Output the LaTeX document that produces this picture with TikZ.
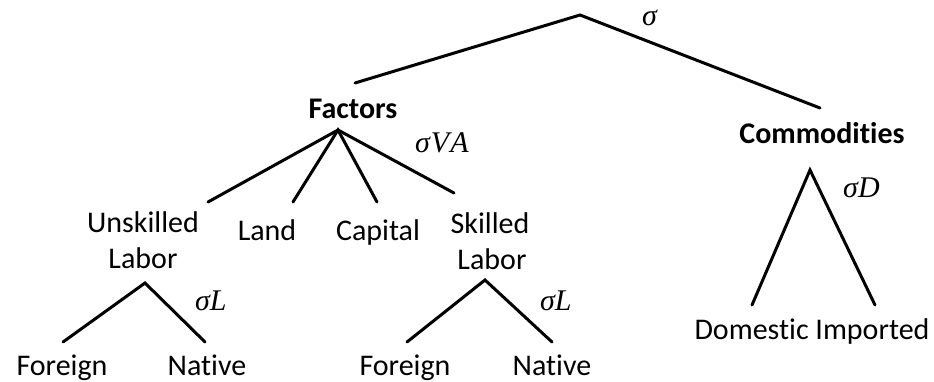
\documentclass[tikz,border=0pt]{standalone}
\usepackage{fontspec}
\setmainfont{Carlito}[Ligatures={NoCommon}]
\newfontfamily\sigfont{Liberation Serif}
\begin{document}
\begin{tikzpicture}[x=1pt,y=-1pt,
  lbl/.style={inner sep=0pt,anchor=base,font=\fontsize{30}{36}\selectfont},
  blbl/.style={lbl,font=\fontsize{30}{36}\selectfont\bfseries},
  sig/.style={inner sep=0pt,anchor=base west,font=\fontsize{30}{36}\selectfont\sigfont\itshape},
  edge/.style={line width=3pt,line cap=round,line join=miter}]
\useasboundingbox (0,0) rectangle (934,381);
% top
\coordinate (root) at (580,15);
\coordinate (rl) at (355,83);
\coordinate (rr) at (820,108);
\node[sig] (s0) at (642,25) {σ};
\draw[edge] (rl) -- (root) -- (rr);
% Factors
\node[blbl] (fac) at (353,118) {Factors};
\node[blbl] (com) at (822,143) {Commodities};
\coordinate (fa) at (338,130);
\node[sig] (sva) at (415,152) {σ\kern1pt V\kern1pt A};
\coordinate (f1) at (208,202);
\coordinate (f2) at (293,202);
\coordinate (f3) at (377,202);
\coordinate (f4) at (454,193);
\draw[edge] (f1) -- (fa) -- (f4);
\draw[edge] (f2) -- (fa) -- (f3);
\node[lbl] (un) at (143,232) {Unskilled};
\node[lbl] (unl) at (143,268) {Labor};
\node[lbl] (land) at (267,240) {Land};
\node[lbl] (cap) at (378,240) {Capital};
\node[lbl] (sk) at (490,233) {Skilled};
\node[lbl] (skl) at (492,269) {Labor};
% unskilled subtree
\coordinate (ua) at (145,283);
\coordinate (u1) at (63,342);
\coordinate (u2) at (205,342);
\draw[edge] (u1) -- (ua) -- (u2);
\node[sig] (sl1) at (195,310) {σL};
\node[lbl] (uf) at (62,375) {Foreign};
\node[lbl] (un2) at (207,375) {Native};
% skilled subtree
\coordinate (sa) at (485,280);
\coordinate (s1) at (407,342);
\coordinate (s2) at (552,342);
\draw[edge] (s1) -- (sa) -- (s2);
\node[sig] (sl2) at (540,310) {σL};
\node[lbl] (sf) at (405,375) {Foreign};
\node[lbl] (sn) at (552,375) {Native};
% commodities subtree
\coordinate (ca) at (810,170);
\coordinate (c1) at (752,305);
\coordinate (c2) at (875,305);
\draw[edge] (c1) -- (ca) -- (c2);
\node[sig] (sd) at (843,197) {σD};
\node[lbl] (dom) at (812,339) {Domestic Imported};
\end{tikzpicture}
\end{document}
